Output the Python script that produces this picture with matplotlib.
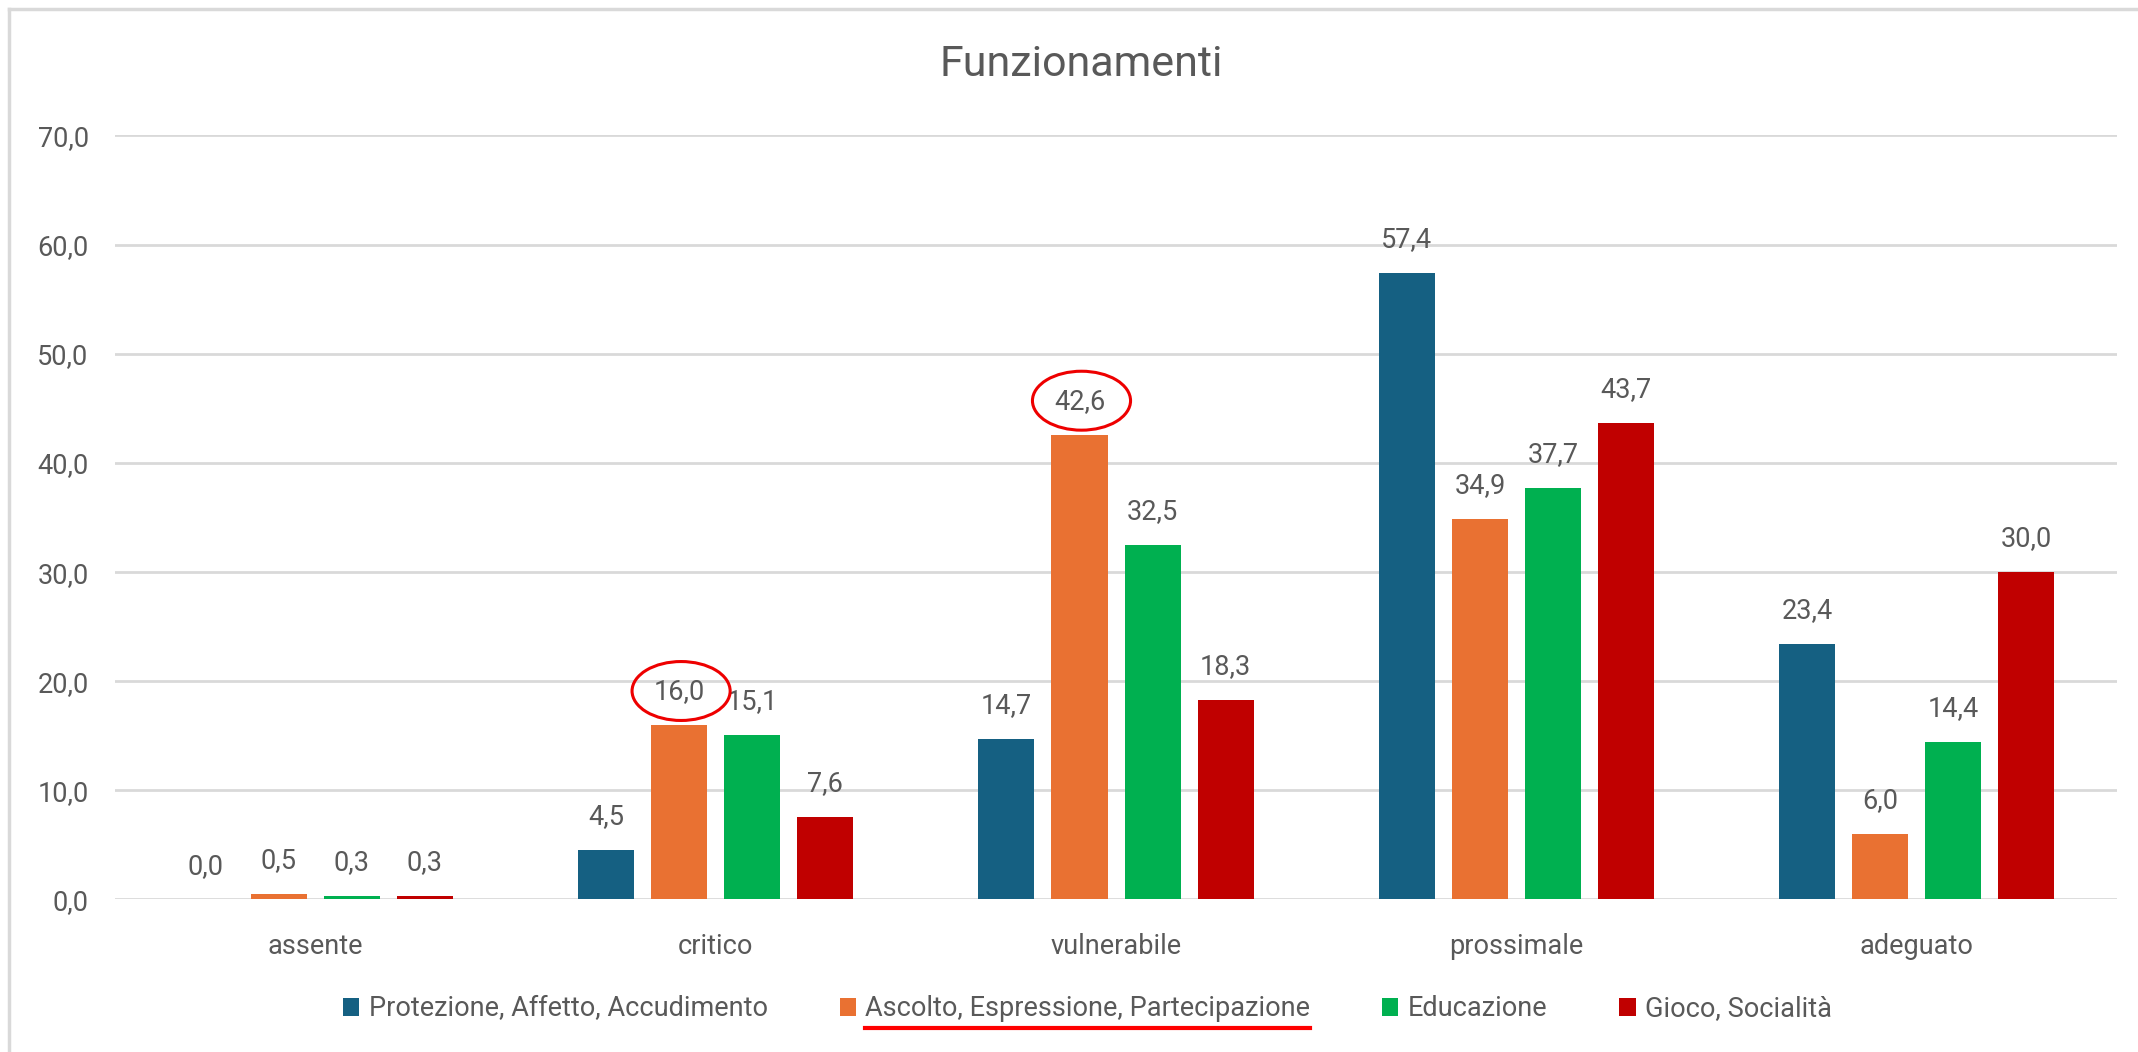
import numpy as np
import matplotlib.pyplot as plt
from matplotlib.patches import Ellipse
from matplotlib.lines import Line2D

plt.rcParams['font.family'] = ['Roboto', 'DejaVu Sans']

# dati
categorie = ['assente', 'critico', 'vulnerabile', 'prossimale', 'adeguato']
serie = ['Protezione, Affetto, Accudimento',
         'Ascolto, Espressione, Partecipazione',
         'Educazione',
         'Gioco, Socialità']
protezione = [0.0, 4.5, 14.7, 57.4, 23.4]
ascolto = [0.5, 16.0, 42.6, 34.9, 6.0]
educazione = [0.3, 15.1, 32.5, 37.7, 14.4]
gioco = [0.3, 7.6, 18.3, 43.7, 30.0]
colori = ['#156082', '#E97132', '#00B050', '#C00000']

# valori evidenziati (categoria, serie)
evidenziati = [(1, 1), (2, 1)]
serie_sottolineata = 1

valori = [protezione, ascolto, educazione, gioco]
grigio = '#595959'
fs = 19.5

fig = plt.figure(figsize=(21.38, 10.52), dpi=100)
ax = fig.add_axes([0.0538, 0.145, 0.9364, 0.7262])

x = np.arange(len(categorie))
passo = 0.1825
larghezza = 0.14
for i, (nome, vals, col) in enumerate(zip(serie, valori, colori)):
    pos = x + (i - 1.5) * passo
    ax.bar(pos, vals, width=larghezza, color=col, label=nome, zorder=3)
    for px, v in zip(pos, vals):
        ax.annotate(f"{v:.1f}".replace('.', ','), xy=(px, v), xytext=(0, 24),
                    textcoords='offset points', ha='center', va='center',
                    fontsize=fs, color=grigio, zorder=4)

# cerchi rossi
for c, s in evidenziati:
    cx = x[c] + (s - 1.5) * passo
    ax.add_patch(Ellipse((cx + 0.005, valori[s][c] + 3.1), width=0.245, height=5.4,
                         fill=False, edgecolor='#EE0000', lw=2.2, zorder=5,
                         clip_on=False))

ax.set_xlim(-0.5, len(categorie) - 0.5)
ax.set_ylim(0, 70)
ax.set_yticks(np.arange(0, 71, 10))
ax.set_yticklabels([f"{t:.1f}".replace('.', ',') for t in np.arange(0, 71, 10)])
ax.set_xticks(x)
ax.set_xticklabels(categorie)
ax.tick_params(axis='y', length=0, pad=19, labelsize=fs, labelcolor=grigio)
ax.tick_params(axis='x', length=0, pad=24, labelsize=fs, labelcolor=grigio)
ax.grid(axis='y', color='#D9D9D9', lw=2, zorder=0)
for sp in ax.spines.values():
    sp.set_visible(False)

fig.text(0.5056, 1 - 65 / 1052, 'Funzionamenti', ha='center', va='center',
         fontsize=31, color=grigio)

leg = fig.legend(loc='center', bbox_to_anchor=(0.5087, 0.0409), ncol=4,
                 frameon=False, fontsize=fs, labelcolor=grigio,
                 handlelength=0.6, handleheight=0.68, handletextpad=0.35,
                 columnspacing=2.65)

# bordo del grafico
fig.add_artist(Line2D([9 / 2138, 1.0], [1 - 9 / 1052, 1 - 9 / 1052],
                      transform=fig.transFigure, color='#D9D9D9', lw=2.5))
fig.add_artist(Line2D([9 / 2138, 9 / 2138], [0.0, 1 - 9 / 1052],
                      transform=fig.transFigure, color='#D9D9D9', lw=2.5))

# sottolineatura voce di legenda
fig.canvas.draw()
bb = leg.get_texts()[serie_sottolineata].get_window_extent()
bb = bb.transformed(fig.transFigure.inverted())
y_line = bb.y0 - 6 / 1052
fig.add_artist(Line2D([bb.x0, bb.x1], [y_line, y_line], transform=fig.transFigure,
                      color='#FF0000', lw=3))

fig.savefig('out.png', dpi=100)
